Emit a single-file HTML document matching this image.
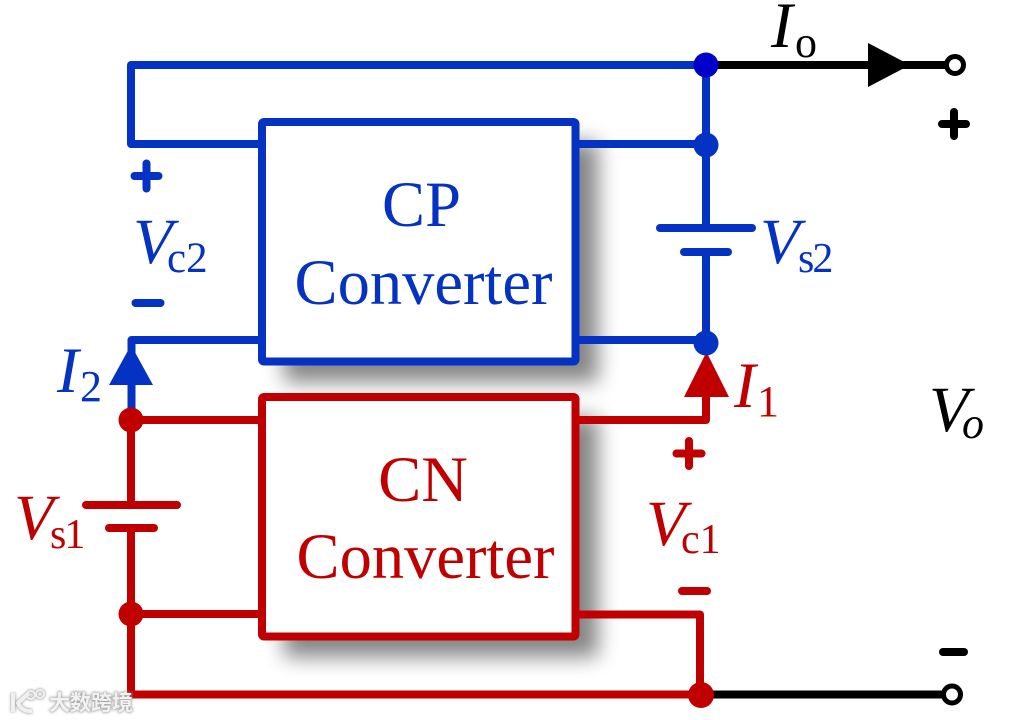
<!DOCTYPE html>
<html>
<head>
<meta charset="utf-8">
<style>
html,body{margin:0;padding:0;background:#fff;width:1024px;height:720px;overflow:hidden}
svg{display:block}
text{font-family:"Liberation Serif",serif}
</style>
</head>
<body>
<svg width="1024" height="720" viewBox="0 0 1024 720" xmlns="http://www.w3.org/2000/svg">
<defs>
<filter id="sh" x="-25%" y="-25%" width="150%" height="150%"><feGaussianBlur stdDeviation="10.500"/></filter>
<filter id="wm" x="-10%" y="-20%" width="120%" height="140%"><feGaussianBlur stdDeviation="1.200"/></filter>
</defs>
<rect width="1024" height="720" fill="#fff"/>
<!-- shadows -->
<rect x="284" y="142" width="314" height="240" fill="#000" opacity=".48" filter="url(#sh)"/>
<rect x="284" y="417" width="314" height="240" fill="#000" opacity=".48" filter="url(#sh)"/>

<!-- black wires -->
<path d="M706 65H945" stroke="#000" stroke-width="8"/>
<path d="M701 694.500H945" stroke="#000" stroke-width="8"/>
<path d="M868 43L910 65L868 87Z" fill="#000"/>
<circle cx="955" cy="65" r="8.500" fill="#fff" stroke="#000" stroke-width="5"/>
<circle cx="952" cy="694.500" r="8.500" fill="#fff" stroke="#000" stroke-width="5"/>

<!-- blue wires -->
<g fill="none" stroke="#0433c4" stroke-width="8" stroke-linejoin="round">
<path d="M706 65H131V144H262"/>
<path d="M706 65V228"/>
<path d="M706 252V343"/>
<path d="M575 144H706"/>
<path d="M575 340H706"/>
<path d="M262 340H131.500V420"/>
</g>
<g fill="none" stroke="#0433c4" stroke-width="8" stroke-linecap="round">
<path d="M660 228H752"/>
<path d="M684 252H728"/>
</g>
<!-- red wires -->
<g fill="none" stroke="#c00000" stroke-width="8" stroke-linejoin="round">
<path d="M131 420V505"/>
<path d="M131 528V694.500H701"/>
<path d="M131 420H262"/>
<path d="M131 614H262"/>
<path d="M575 420H706V385"/>
<path d="M575 614.500H700V694"/>
</g>
<g fill="none" stroke="#c00000" stroke-width="8" stroke-linecap="round">
<path d="M86 505H177"/>
<path d="M109 528H154"/>
</g>

<!-- boxes -->
<rect x="262" y="122" width="313.500" height="239.500" rx="2" fill="#fff" stroke="#0433c4" stroke-width="8"/>
<rect x="262" y="397" width="313.500" height="239.500" rx="2" fill="#fff" stroke="#c00000" stroke-width="8"/>

<!-- arrows -->
<path d="M131 345L153 385H109Z" fill="#0433c4"/>
<path d="M706.500 352L729 397H684Z" fill="#c00000"/>

<!-- nodes -->
<circle cx="706" cy="65" r="12.500" fill="#0000c8"/>
<circle cx="706" cy="145" r="12.500" fill="#0433c4"/>
<circle cx="706" cy="343" r="12.500" fill="#0433c4"/>
<circle cx="131" cy="420" r="12.500" fill="#c00000"/>
<circle cx="131" cy="614" r="12.500" fill="#c00000"/>
<circle cx="701" cy="695" r="13" fill="#c00000"/>

<!-- plus / minus -->
<g stroke-width="8" stroke-linecap="round" fill="none">
<path d="M134.500 176H158.500M146.500 163.500V188.500" stroke="#0433c4"/>
<path d="M135.500 303H160.500" stroke="#0433c4"/>
<path d="M676.500 453.500H701.500M689 441V466" stroke="#c00000"/>
<path d="M682 591H707" stroke="#c00000"/>
<path d="M942 124H966M954 112V136" stroke="#000"/>
<path d="M943 652H964" stroke="#000"/>
</g>

<!-- box labels -->
<g font-size="64.500" text-anchor="middle">
<text x="421.500" y="226" fill="#0433c4">CP</text>
<text x="423.500" y="304" fill="#0433c4">Converter</text>
<text x="423" y="501" fill="#c00000">CN</text>
<text x="425.500" y="578" fill="#c00000">Converter</text>
</g>

<!-- math labels -->
<g font-size="65">
<text x="771" y="47" font-style="italic" fill="#000">I</text>
<text x="795" y="57" font-size="44" fill="#000">o</text>
<text x="760" y="263" font-style="italic" fill="#0433c4">V</text>
<text x="798" y="272" font-size="42" letter-spacing="-2" fill="#0433c4">s2</text>
<text x="133" y="263" font-style="italic" fill="#0433c4">V</text>
<text x="167" y="272" font-size="43" fill="#0433c4">c2</text>
<text x="57" y="392" font-style="italic" fill="#0433c4">I</text>
<text x="80" y="401" font-size="44" fill="#0433c4">2</text>
<text x="734" y="407" font-style="italic" fill="#c00000">I</text>
<text x="757" y="416" font-size="44" fill="#c00000">1</text>
<text x="14" y="539" font-style="italic" fill="#c00000">V</text>
<text x="50" y="548" font-size="42" letter-spacing="-2" fill="#c00000">s1</text>
<text x="646" y="545" font-style="italic" fill="#c00000">V</text>
<text x="681" y="553" font-size="42" fill="#c00000">c1</text>
<text x="929" y="431" font-style="italic" fill="#000">V</text>
<text x="962" y="438" font-size="44" font-style="italic" fill="#000">o</text>
</g>

<!-- watermark -->
<g filter="url(#wm)" opacity=".75">
<path d="M13 693V712M29 693L18 703Q22 712 32 711" fill="none" stroke="#888" stroke-width="5"/>
<circle cx="31" cy="695" r="4" fill="none" stroke="#888" stroke-width="3"/>
<circle cx="40" cy="694" r="4" fill="none" stroke="#888" stroke-width="3"/>
<text x="49" y="710" font-size="21" font-weight="bold" fill="#888" stroke="#888" stroke-width="1.500" style="font-family:'Liberation Sans','Noto Sans CJK SC',sans-serif">大数跨境</text>
</g>
<g>
<path d="M13 693V712M29 693L18 703Q22 712 32 711" fill="none" stroke="#f0f0f0" stroke-width="4"/>
<circle cx="31" cy="695" r="4" fill="none" stroke="#f0f0f0" stroke-width="2"/>
<circle cx="40" cy="694" r="4" fill="none" stroke="#f0f0f0" stroke-width="2"/>
<text x="49" y="710" font-size="21" font-weight="bold" fill="#f2f2f2" style="font-family:'Liberation Sans','Noto Sans CJK SC',sans-serif">大数跨境</text>
</g>
</svg>
</body>
</html>
